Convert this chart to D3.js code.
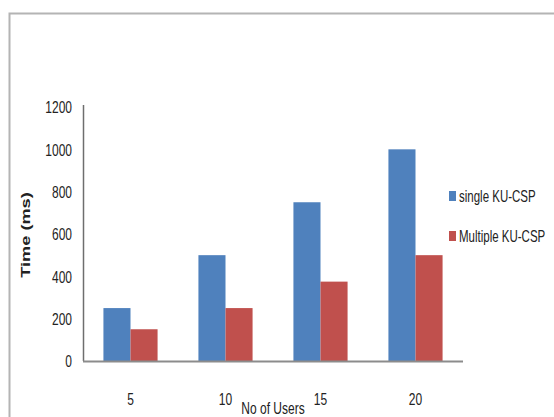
<!DOCTYPE html>
<html>
<head>
<meta charset="utf-8">
<script src="https://cdn.jsdelivr.net/npm/d3@7"></script>
<style>
  html, body { margin: 0; padding: 0; background: #fff; }
  svg { display: block; }
  text { font-family: "Liberation Sans", Arial, sans-serif; fill: #222; }
</style>
</head>
<body>
<svg id="chart" width="554" height="417"></svg>
<script>
// Response time by number of users
const users = ["5", "10", "15", "20"];
const seriesNames = ["single KU-CSP", "Multiple KU-CSP"];
const singleKU = [250, 500, 750, 1000];
const multipleKU = [150, 250, 375, 500];
const yTicks = [0, 200, 400, 600, 800, 1000, 1200];
const colors = ["#4F81BD", "#C0504D"];

const svg = d3.select("#chart");
const stretch = 1.4; // glyphs are drawn tall and condensed

// outer frame
svg.append("rect")
  .attr("x", 9.5).attr("y", 13.5)
  .attr("width", 600).attr("height", 500)
  .attr("fill", "none").attr("stroke", "#b4b4b4").attr("stroke-width", 2);

const plot = { left: 83, right: 463, top: 105, bottom: 361 };

const x0 = d3.scaleBand().domain(users).range([plot.left, plot.right])
  .paddingInner(0.43).paddingOuter(0.215);
const x1 = d3.scaleBand().domain(seriesNames).range([0, x0.bandwidth()]);
const y = d3.scaleLinear().domain([0, 1200]).range([plot.bottom, 107]);

const rows = users.map((u, i) => ({ u, vals: [singleKU[i], multipleKU[i]] }));

// bars
const groups = svg.append("g").selectAll("g").data(rows).join("g")
  .attr("transform", d => `translate(${x0(d.u)},0)`);
groups.selectAll("rect")
  .data(d => d.vals.map((v, k) => ({ v, k })))
  .join("rect")
  .attr("x", d => x1(seriesNames[d.k]))
  .attr("width", x1.bandwidth())
  .attr("y", d => y(d.v))
  .attr("height", d => y(0) - y(d.v))
  .attr("fill", d => colors[d.k]);

// y axis
const yAxis = svg.append("g").attr("transform", `translate(${plot.left},0)`)
  .call(d3.axisLeft(y).tickValues(yTicks).tickFormat(d3.format("d"))
    .tickSize(0).tickPadding(11));
yAxis.attr("font-family", null);
yAxis.select(".domain").attr("d", `M0.5,${plot.top}V${plot.bottom}`)
  .attr("stroke", "#6e6e6e").attr("stroke-width", 1.5);
yAxis.selectAll(".tick text")
  .attr("font-size", 12).attr("fill", "#222")
  .attr("dy", null).attr("x", null)
  .attr("dominant-baseline", "central")
  .attr("transform", `translate(-11,0) scale(1,${stretch})`);

// x axis
const xAxis = svg.append("g").attr("transform", `translate(0,${plot.bottom})`)
  .call(d3.axisBottom(x0).tickSize(0).tickPadding(0));
xAxis.attr("font-family", null);
xAxis.select(".domain").attr("d", `M${plot.left},0.5H${plot.right}`)
  .attr("stroke", "#8c8c8c").attr("stroke-width", 2);
xAxis.selectAll(".tick text")
  .attr("font-size", 12).attr("fill", "#222")
  .attr("dy", null).attr("y", 0)
  .attr("transform", `translate(0,44) scale(1,${stretch})`);

// axis titles
svg.append("text")
  .attr("transform", `translate(273,414) scale(1,${stretch})`)
  .attr("text-anchor", "middle").attr("font-size", 12)
  .text("No of Users");

svg.append("text")
  .attr("transform", `translate(30,235) scale(1,${stretch}) rotate(-90)`)
  .attr("text-anchor", "middle").attr("font-size", 13).attr("font-weight", "bold")
  .text("Time (ms)");

// legend
const legendY = [196, 236];
const legend = svg.append("g").selectAll("g").data(seriesNames).join("g")
  .attr("transform", (d, i) => `translate(449,${legendY[i]})`);
legend.append("rect")
  .attr("x", 0).attr("y", -5).attr("width", 7).attr("height", 10)
  .attr("fill", (d, i) => colors[i]);
legend.append("text")
  .attr("dominant-baseline", "central")
  .attr("font-size", 11.5)
  .attr("transform", `translate(10,0) scale(1,${stretch})`)
  .text(d => d);
</script>
</body>
</html>
